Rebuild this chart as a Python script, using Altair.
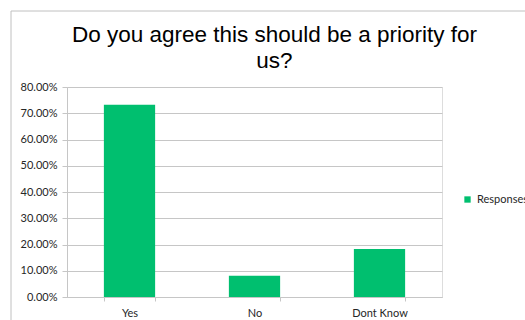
import altair as alt
import pandas as pd

categories = ["Yes", "No", "Dont Know"]
values = [0.732, 0.081, 0.183]
series_name = "Responses"
y_ticks = [0, 0.1, 0.2, 0.3, 0.4, 0.5, 0.6, 0.7, 0.8]

df = pd.DataFrame({"answer": categories, "share": values, "series": [series_name] * len(categories)})

GREEN = "#00BF6F"
GRID = "#c6c6c6"

frame = alt.Chart(pd.DataFrame({"k": [0]})).mark_rect(
    fill=None, stroke="#c0c0c0", strokeWidth=1
).encode(
    x=alt.value(-56), x2=alt.value(700), y=alt.value(-76), y2=alt.value(600)
)

bars = alt.Chart(df).mark_bar(color=GREEN).encode(
    x=alt.X(
        "answer:N",
        sort=categories,
        title=None,
        scale=alt.Scale(paddingInner=0.59, paddingOuter=0.295),
        axis=alt.Axis(
            labelAngle=0, tickBand="extent", domainColor=GRID, tickColor=GRID,
            tickSize=4, labelPadding=6, labelFont="Lato", labelFontSize=11,
            labelColor="#262626", grid=False,
        ),
    ),
    y=alt.Y(
        "share:Q",
        title=None,
        scale=alt.Scale(domain=[0, 0.8], nice=False),
        axis=alt.Axis(
            values=y_ticks, format=".2%", domainColor=GRID, tickColor=GRID,
            tickSize=5, labelPadding=5, labelFont="Lato", labelFontSize=11,
            labelColor="#262626", gridColor=GRID,
        ),
    ),
    color=alt.Color(
        "series:N",
        scale=alt.Scale(range=[GREEN]),
        legend=alt.Legend(
            orient="none", legendX=395, legendY=107, title=None,
            symbolType="square", symbolSize=40, symbolStrokeWidth=0,
            labelFont="Lato", labelFontSize=11, labelColor="#262626",
        ),
    ),
)

chart = alt.layer(frame, bars).properties(
    width=375,
    height=210,
    title=alt.TitleParams(
        text=["Do you agree this should be a priority for", "us?"],
        font="Liberation Sans", fontSize=22.5, fontWeight="normal", color="#000000",
        anchor="middle", dx=20, offset=22, dy=84, lineHeight=26,
    ),
    padding={"left": 67, "top": 87, "right": 83, "bottom": 23},
    autosize=alt.AutoSizeParams(type="none"),
).configure_view(stroke=None).configure(background="white")

chart.save("out.html", embed_options={"renderer": "svg", "actions": False})
